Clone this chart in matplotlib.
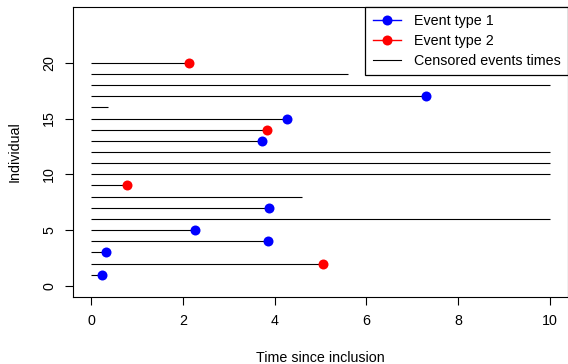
import numpy as np
import matplotlib.pyplot as plt
from matplotlib.lines import Line2D

plt.rcParams['font.family'] = ['Liberation Sans', 'DejaVu Sans']

# individuals 1..20, follow-up time and status (0 = censored, 1 = type 1, 2 = type 2)
individual = np.arange(1, 21)
times = [0.24, 5.05, 0.33, 3.86, 2.27, 10.0, 3.88, 4.60, 0.78, 10.0,
         10.0, 10.0, 3.73, 3.83, 4.27, 0.37, 7.30, 10.0, 5.60, 2.13]
status = [1, 2, 1, 1, 1, 0, 1, 0, 2, 0,
          0, 0, 1, 2, 1, 0, 1, 0, 0, 2]
labels = ['Event type 1', 'Event type 2', 'Censored events times']

times = np.array(times)
status = np.array(status)

fs = 10.3
fig = plt.figure(figsize=(5.68, 3.64), dpi=100)
ax = fig.add_axes([73/568, 67/364, 495/568, 290/364])

ax.hlines(individual, 0, times, color='black', lw=0.8)
for s, col in [(1, 'blue'), (2, 'red')]:
    m = status == s
    ax.plot(times[m], individual[m], 'o', color=col, ms=7.2, mew=0, zorder=3)

ax.set_xlim(-0.4, 10.4)
ax.set_ylim(-1, 25)
ax.set_xticks([0, 2, 4, 6, 8, 10])
ax.set_yticks([0, 5, 10, 15, 20])
ax.set_yticklabels(['0', '5', '10', '15', '20'], rotation=90, va='center')
ax.tick_params(direction='out', length=6, width=0.8, labelsize=fs, pad=6)
for sp in ax.spines.values():
    sp.set_linewidth(0.8)
ax.set_xlabel('Time since inclusion', fontsize=fs, labelpad=17)
ax.set_ylabel('Individual', fontsize=fs, labelpad=15)

# R style legend: marker at the right end of the line
handles = [Line2D([], [], color='blue', marker='o', ms=7.2, mew=0, lw=1, markevery=[2]),
           Line2D([], [], color='red', marker='o', ms=7.2, mew=0, lw=1, markevery=[2]),
           Line2D([], [], color='black', lw=0.8)]
leg = ax.legend(handles, labels, loc='upper right', numpoints=1, fontsize=fs,
                fancybox=False, framealpha=1, edgecolor='black', borderaxespad=0,
                handlelength=2.0, handletextpad=0.9, labelspacing=0.42,
                borderpad=0.5)
leg.get_frame().set_linewidth(0.9)

fig.savefig('out.png', dpi=100)
